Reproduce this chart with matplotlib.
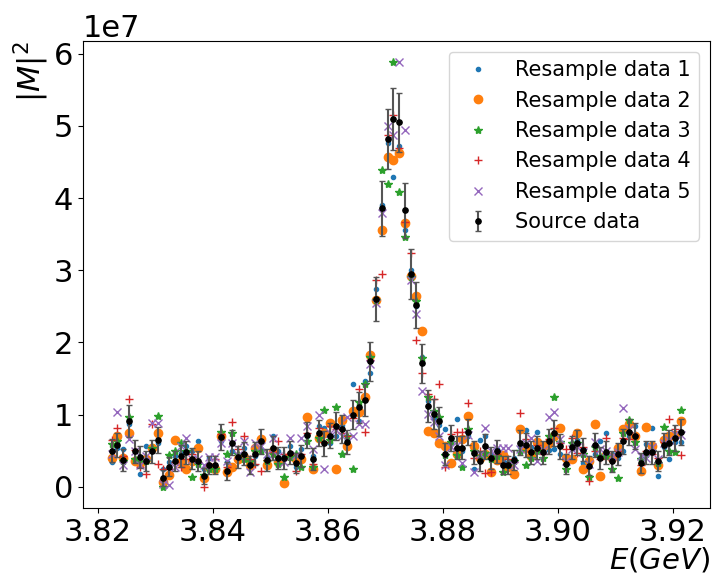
import numpy as np
import matplotlib
matplotlib.use("Agg")
import matplotlib.pyplot as plt

# Energy grid (GeV): 100 measurement points, 1 MeV apart
energy = np.linspace(3.8224, 3.9214, 100)

# Source data (units of 1e7)
source = [0.50, 0.58, 0.37, 0.91, 0.49, 0.41, 0.36, 0.49, 0.65, 0.12,
          0.28, 0.36, 0.43, 0.48, 0.39, 0.36, 0.15, 0.30, 0.30, 0.69,
          0.22, 0.61, 0.41, 0.46, 0.30, 0.46, 0.63, 0.37, 0.54, 0.40,
          0.40, 0.47, 0.33, 0.43, 0.72, 0.38, 0.75, 0.60, 0.71, 0.84,
          0.80, 0.62, 1.00, 1.10, 1.20, 1.74, 2.60, 3.86, 4.82, 5.10,
          5.05, 3.83, 2.95, 2.52, 1.71, 1.12, 1.01, 0.91, 0.45, 0.68,
          0.54, 0.54, 0.76, 0.47, 0.36, 0.56, 0.40, 0.49, 0.30, 0.30,
          0.37, 0.61, 0.58, 0.48, 0.54, 0.48, 0.63, 0.75, 0.56, 0.32,
          0.55, 0.61, 0.51, 0.29, 0.58, 0.40, 0.48, 0.35, 0.45, 0.63,
          0.76, 0.70, 0.33, 0.48, 0.48, 0.36, 0.58, 0.61, 0.68, 0.76]

source_err = [0.16, 0.17, 0.15, 0.22, 0.16, 0.15, 0.14, 0.16, 0.18, 0.11,
              0.13, 0.14, 0.15, 0.16, 0.15, 0.14, 0.11, 0.13, 0.13, 0.18,
              0.12, 0.17, 0.15, 0.16, 0.13, 0.16, 0.17, 0.15, 0.17, 0.15,
              0.15, 0.16, 0.14, 0.15, 0.18, 0.15, 0.18, 0.17, 0.18, 0.19,
              0.19, 0.17, 0.20, 0.21, 0.22, 0.27, 0.30, 0.38, 0.42, 0.43,
              0.41, 0.38, 0.35, 0.32, 0.27, 0.22, 0.21, 0.20, 0.15, 0.18,
              0.16, 0.16, 0.18, 0.16, 0.14, 0.17, 0.15, 0.16, 0.13, 0.13,
              0.14, 0.17, 0.17, 0.16, 0.16, 0.16, 0.17, 0.18, 0.17, 0.14,
              0.16, 0.17, 0.16, 0.13, 0.17, 0.15, 0.16, 0.14, 0.15, 0.17,
              0.18, 0.18, 0.14, 0.16, 0.16, 0.14, 0.17, 0.17, 0.18, 0.18]

resample1 = [0.34, 0.54, 0.52, 0.87, 0.37, 0.18, 0.57, 0.57, 0.61, 0.24,
             0.34, 0.43, 0.47, 0.57, 0.49, 0.63, 0.24, 0.40, 0.28, 0.64,
             0.34, 0.50, 0.36, 0.54, 0.27, 0.43, 0.52, 0.41, 0.70, 0.50,
             0.43, 0.57, 0.28, 0.52, 0.71, 0.43, 0.84, 0.82, 0.60, 0.71,
             0.85, 0.65, 1.42, 0.91, 1.47, 1.57, 2.74, 3.90, 4.77, 4.29,
             4.72, 3.56, 3.01, 2.50, 1.80, 1.19, 0.95, 0.85, 0.80, 0.64,
             0.94, 0.50, 0.70, 0.25, 0.65, 0.71, 0.45, 0.52, 0.36, 0.34,
             0.40, 0.55, 0.79, 0.55, 0.76, 0.50, 0.51, 0.52, 0.45, 0.43,
             0.61, 0.65, 0.33, 0.40, 0.45, 0.64, 0.74, 0.45, 0.40, 0.49,
             0.70, 0.84, 0.40, 0.59, 0.82, 0.15, 0.55, 0.38, 0.62, 0.62]

resample2 = [0.40, 0.71, 0.40, 0.74, 0.36, 0.33, 0.38, 0.54, 0.74, 0.07,
             0.16, 0.65, 0.34, 0.24, 0.36, 0.54, 0.12, 0.27, 0.24, 0.71,
             0.21, 0.27, 0.39, 0.41, 0.30, 0.54, 0.66, 0.30, 0.50, 0.34,
             0.05, 0.43, 0.38, 0.38, 0.97, 0.25, 0.68, 0.75, 0.89, 0.24,
             0.93, 0.57, 1.05, 1.03, 1.25, 1.82, 2.59, 3.56, 4.57, 4.53,
             4.63, 3.66, 2.92, 2.64, 2.16, 0.77, 0.75, 0.60, 0.56, 0.33,
             0.45, 0.66, 0.98, 0.56, 0.40, 0.45, 0.20, 0.37, 0.44, 0.27,
             0.18, 0.80, 0.53, 0.42, 0.62, 0.57, 0.60, 0.70, 0.81, 0.40,
             0.38, 0.75, 0.24, 0.36, 0.87, 0.15, 0.44, 0.40, 0.54, 0.80,
             0.87, 0.70, 0.22, 0.83, 0.57, 0.30, 0.65, 0.70, 0.72, 0.91]

resample3 = [0.59, 0.64, 0.35, 0.97, 0.39, 0.38, 0.36, 0.54, 0.98, 0.00,
             0.44, 0.50, 0.60, 0.50, 0.13, 0.31, 0.16, 0.25, 0.24, 0.76,
             0.45, 0.75, 0.45, 0.38, 0.36, 0.50, 0.50, 0.36, 0.45, 0.32,
             0.13, 0.41, 0.45, 0.28, 0.64, 0.28, 0.68, 1.07, 0.65, 1.10,
             0.45, 0.71, 0.25, 1.17, 1.42, 1.80, 2.59, 4.39, 4.19, 5.88,
             4.08, 3.46, 2.91, 2.58, 1.78, 1.25, 1.05, 0.96, 0.44, 0.62,
             0.44, 0.28, 0.80, 0.50, 0.42, 0.47, 0.38, 0.43, 0.20, 0.30,
             0.35, 0.50, 0.30, 0.40, 0.50, 0.40, 0.71, 1.24, 0.62, 0.24,
             0.60, 0.61, 0.45, 0.13, 0.55, 0.43, 0.42, 0.25, 0.12, 0.75,
             0.93, 0.62, 0.38, 0.45, 0.50, 0.33, 0.83, 0.50, 0.48, 1.06]

resample4 = [0.65, 0.82, 0.43, 1.21, 0.51, 0.28, 0.18, 0.87, 0.31, 0.24,
             0.24, 0.34, 0.27, 0.38, 0.45, 0.34, 0.00, 0.31, 0.38, 0.73,
             0.28, 0.90, 0.52, 0.70, 0.38, 0.31, 0.22, 0.37, 0.48, 0.64,
             0.45, 0.46, 0.22, 0.45, 0.75, 0.31, 0.82, 0.62, 0.84, 0.80,
             0.75, 0.70, 0.95, 1.36, 0.76, 1.75, 2.87, 2.95, 4.87, 5.15,
             4.69, 3.67, 3.24, 2.04, 1.57, 1.28, 1.22, 1.42, 0.27, 0.73,
             0.76, 0.76, 1.16, 0.40, 0.50, 0.19, 0.20, 0.45, 0.33, 0.38,
             0.34, 1.02, 0.66, 0.50, 0.58, 0.45, 0.66, 0.82, 0.60, 0.52,
             0.68, 0.47, 0.55, 0.08, 0.50, 0.38, 0.67, 0.38, 0.50, 0.68,
             0.66, 0.72, 0.30, 0.50, 0.45, 0.40, 0.62, 0.94, 0.80, 0.44]

resample5 = [0.45, 1.04, 0.30, 0.66, 0.50, 0.30, 0.43, 0.89, 0.89, 0.04,
             0.02, 0.27, 0.57, 0.67, 0.38, 0.38, 0.30, 0.41, 0.41, 0.61,
             0.36, 0.61, 0.44, 0.64, 0.21, 0.61, 0.57, 0.45, 0.67, 0.43,
             0.34, 0.68, 0.44, 0.67, 0.84, 0.52, 1.00, 0.24, 0.75, 0.78,
             0.70, 0.96, 0.71, 0.87, 0.87, 1.70, 2.55, 3.80, 5.00, 4.87,
             5.88, 4.94, 2.87, 2.40, 1.33, 1.01, 0.90, 0.71, 0.30, 0.55,
             0.58, 0.33, 0.72, 0.21, 0.45, 0.81, 0.50, 0.53, 0.53, 0.53,
             0.30, 0.52, 0.60, 0.67, 0.35, 0.51, 0.96, 1.03, 0.66, 0.35,
             0.52, 0.55, 0.48, 0.32, 0.62, 0.52, 0.50, 0.42, 0.48, 1.09,
             0.80, 0.52, 0.42, 0.40, 0.55, 0.38, 0.60, 0.65, 0.73, 0.72]

scale = 1e7
legend_labels = ["Resample data 1", "Resample data 2", "Resample data 3",
                 "Resample data 4", "Resample data 5", "Source data"]
xtick_vals = [3.82, 3.84, 3.86, 3.88, 3.90, 3.92]
xtick_labels = ["3.82", "3.84", "3.86", "3.88", "3.90", "3.92"]

fig = plt.figure(figsize=(7.14, 5.76), dpi=100)
ax = fig.add_axes([0.116, 0.118, 0.878, 0.810])

E = np.asarray(energy)
ax.plot(E, np.asarray(resample1) * scale, '.', color='#1f77b4',
        label=legend_labels[0])
ax.plot(E, np.asarray(resample2) * scale, 'o', color='#ff7f0e',
        label=legend_labels[1])
ax.plot(E, np.asarray(resample3) * scale, '*', color='#2ca02c',
        label=legend_labels[2])
ax.plot(E, np.asarray(resample4) * scale, '+', color='#d62728',
        label=legend_labels[3])
ax.plot(E, np.asarray(resample5) * scale, 'x', color='#9467bd',
        label=legend_labels[4])
cont = ax.errorbar(E, np.asarray(source) * scale,
                   yerr=np.asarray(source_err) * scale,
                   fmt='o', color='k', ms=3.8, ecolor='#555555',
                   elinewidth=1.5, capsize=2.5, capthick=1,
                   label=legend_labels[5])
for cap in cont[1]:
    cap.set_color('k')

ax.set_xlim(3.8174, 3.9264)
ax.set_ylim(-0.295e7, 6.17e7)
ax.set_xticks(xtick_vals)
ax.set_xticklabels(xtick_labels)
ax.tick_params(labelsize=22)
ax.yaxis.get_offset_text().set_fontsize(22)

ax.set_xlabel("$E(GeV)$", fontsize=21, ha='right', va='bottom')
ax.xaxis.set_label_coords(1.0, -0.143)
ax.set_ylabel("$|M|^2$", fontsize=22, loc='top', labelpad=2)

ax.legend(loc='upper right', fontsize=15)

fig.savefig("out.png", dpi=100)
